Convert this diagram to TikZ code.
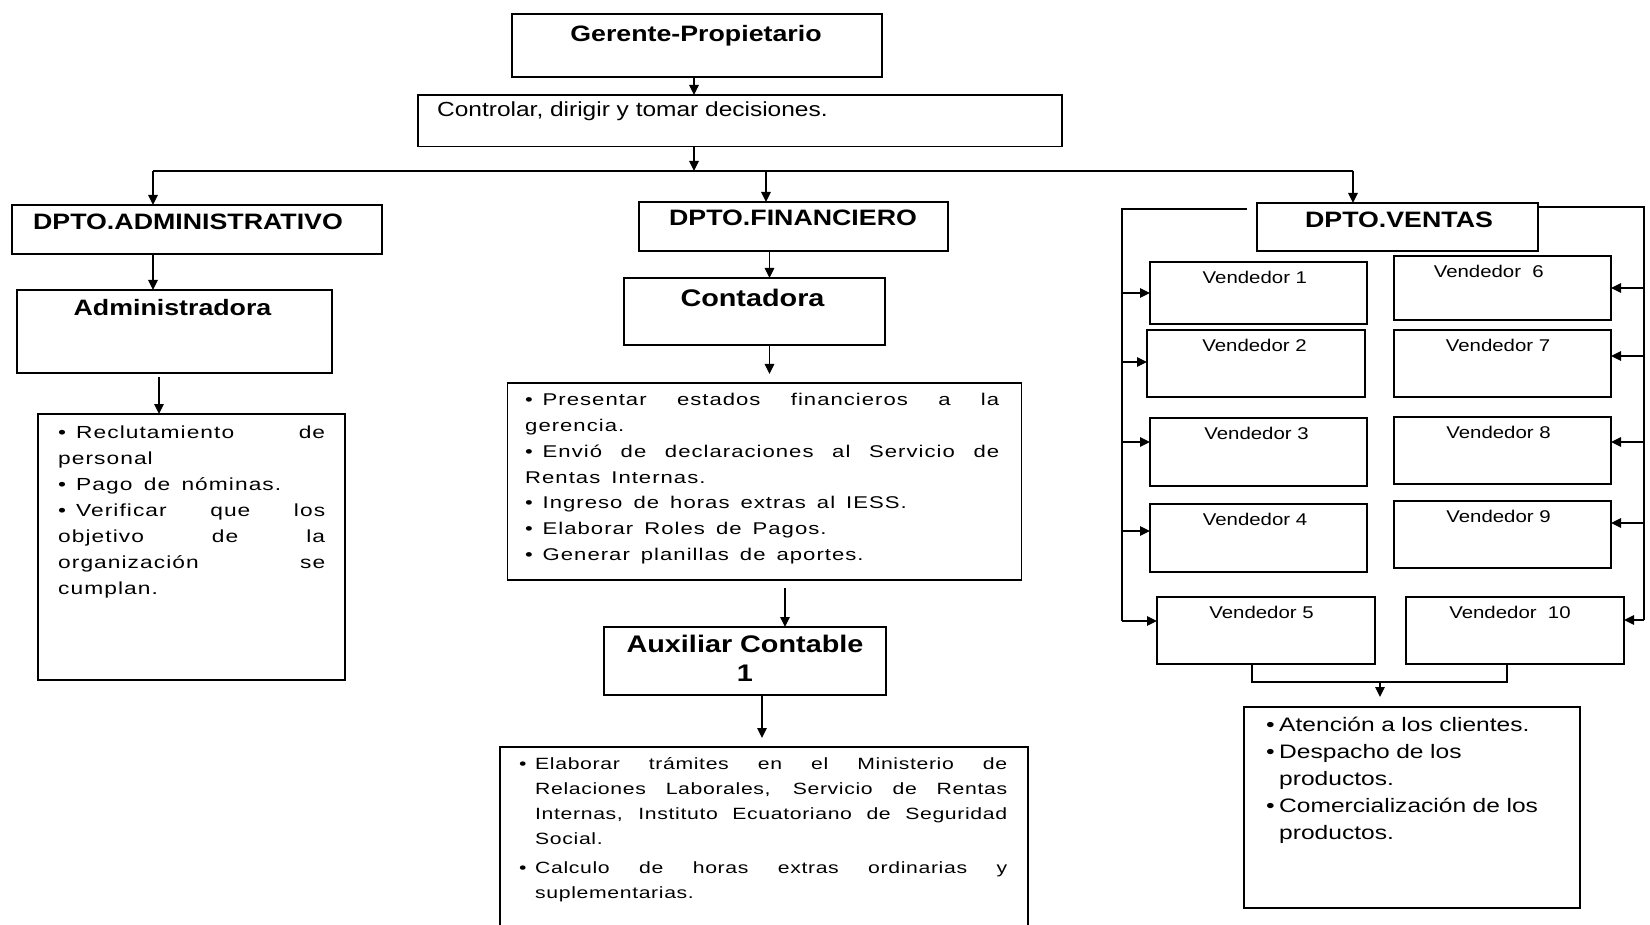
\documentclass[tikz,border=0pt]{standalone}
\usepackage{fontspec}
\setmainfont{Liberation Sans}[FakeStretch=1.2]
\newfontfamily\listfont{Liberation Sans}[FakeStretch=1.3,LetterSpace=6]
\newfontfamily\auxfont{Liberation Sans}[FakeStretch=1.3,LetterSpace=4]
\newfontfamily\widefont{Liberation Sans}[FakeStretch=1.26]
\usetikzlibrary{arrows.meta}

% bullet in a fixed-width slot, and a line justified to a given width
\newcommand\bul[1]{\makebox[#1][l]{\textbullet}}
\newcommand\jl[2]{\makebox[#1][s]{\spaceskip=0.65em plus 1fil\relax#2}}
\newcommand\widespaces{\spaceskip=0.65em\relax}

\tikzset{
  box/.style={draw, line width=1.6pt, inner sep=0pt, outer sep=0pt},
  wire/.style={line width=1.4pt},
  arr/.style={wire, -{Triangle[length=10pt,width=9.5pt]}},
  head/.style={font=\bfseries\fontsize{22.3}{26}\selectfont, inner sep=0pt, anchor=base},
  big/.style={font=\bfseries\fontsize{24}{28.3}\selectfont, inner sep=0pt, anchor=base, align=center},
  seller/.style={font=\fontsize{17}{20}\selectfont, inner sep=0pt, anchor=base},
  duty/.style={inner sep=0pt, anchor=base west, align=left},
}

\begin{document}
\begin{tikzpicture}[x=1pt, y=-1pt]
\fill[white] (0,0) rectangle (1650,925);
\useasboundingbox (0,0) rectangle (1650,925);

% ---------- top ----------
\node[box, minimum width=370pt, minimum height=63pt] (g) at (697,45.5) {};
\node[head] (tg) at (696,42) {Gerente-Propietario};
\node[box, minimum width=644pt, minimum height=51.5pt] (ctl) at (740,120.75) {};
\node[font=\fontsize{20.4}{24}\selectfont, inner sep=0pt, anchor=base west] (tctl) at (437,117) {Controlar, dirigir y tomar decisiones.};

% distribution bus
\coordinate (busL) at (153,171);
\coordinate (busF) at (766,171);
\coordinate (busR) at (1353,171);
\draw[wire] (busL) -- (busR);
\draw[arr] ([xshift=-3pt]g.south) -- ([xshift=-3pt]g.south |- ctl.north);
\draw[arr] ([xshift=-46pt]ctl.south) -- ([xshift=-46pt]ctl.south |- busL);

% ---------- administrative department ----------
\node[box, minimum width=370pt, minimum height=49pt] (adm) at (197,229.5) {};
\node[head] (tadm) at (188,229.3) {DPTO.ADMINISTRATIVO};
\node[box, minimum width=315pt, minimum height=83pt] (admin2) at (174.5,331.5) {};
\node[head] (tadmin2) at (172.5,316) {Administradora};
\node[box, minimum width=307pt, minimum height=266pt] (admlist) at (191.5,547) {};
\node[duty, text width=267pt, font=\listfont\fontsize{17.5}{26}\selectfont] (tadml) at (58,438.3) {\widespaces
\bul{18pt}\jl{249pt}{Reclutamiento de}\\
personal\\
\bul{18pt}Pago de nóminas.\\
\bul{18pt}\jl{249pt}{Verificar que los}\\
\jl{267pt}{objetivo de la}\\
\jl{267pt}{organización se}\\
cumplan.};

\coordinate (xa) at (159,0);
\draw[arr] (busL) -- (busL |- adm.north);
\draw[arr] (adm.south -| busL) -- (admin2.north -| busL);
\draw[arr, shorten <=4pt] (admin2.south -| xa) -- (admlist.north -| xa);

% ---------- financial department ----------
\node[box, minimum width=309pt, minimum height=49pt] (fin) at (793.5,226.5) {};
\node[head] (tfin) at (793,226) {DPTO.FINANCIERO};
\node[box, minimum width=261pt, minimum height=67pt] (cont) at (754.5,311.5) {};
\node[big] (tcont) at (752.5,306.7) {Contadora};
\node[box, minimum width=514pt, minimum height=197pt] (finlist) at (764.5,481.5) {};
\node[duty, text width=474pt, font=\listfont\fontsize{17}{25.7}\selectfont] (tfinl) at (525,406) {\widespaces
\bul{17.5pt}\jl{456.5pt}{Presentar estados financieros a la}\\
gerencia.\\
\bul{17.5pt}\jl{456.5pt}{Envió de declaraciones al Servicio de}\\
Rentas Internas.\\
\bul{17.5pt}Ingreso de horas extras al IESS.\\
\bul{17.5pt}Elaborar Roles de Pagos.\\
\bul{17.5pt}Generar planillas de aportes.};
\node[box, minimum width=282pt, minimum height=68pt] (aux) at (745,661) {};
\node[big] (taux) at (745,681) {Auxiliar Contable\\1};
\node[inner sep=0pt, outer sep=0pt, minimum width=528pt, minimum height=178pt] (auxlist) at (764,836) {};
\draw[line width=1.6pt] (auxlist.south west) -- (auxlist.north west) -- (auxlist.north east) -- (auxlist.south east);
\node[duty, text width=488pt, font=\auxfont\fontsize{16.3}{25}\selectfont] (tauxl) at (519,769) {\widespaces
\bul{16pt}\jl{472pt}{Elaborar trámites en el Ministerio de}\\
\hspace*{16pt}\jl{472pt}{Relaciones Laborales, Servicio de Rentas}\\
\hspace*{16pt}\jl{472pt}{Internas, Instituto Ecuatoriano de Seguridad}\\
\hspace*{16pt}Social.\\[4pt]
\bul{16pt}\jl{472pt}{Calculo de horas extras ordinarias y}\\
\hspace*{16pt}suplementarias.};

\coordinate (xf) at (769.5,0);
\coordinate (xx) at (785,0);
\coordinate (xc) at (762,0);
\draw[arr] (busF) -- (busF |- fin.north);
\draw[arr] (fin.south -| xf) -- (cont.north -| xf);
\draw[arr, shorten >=9pt] (cont.south -| xf) -- (finlist.north -| xf);
\draw[arr, shorten <=8pt] (finlist.south -| xx) -- (aux.north -| xx);
\draw[arr, shorten >=9pt] (aux.south -| xc) -- (auxlist.north -| xc);

% ---------- sales department ----------
\node[box, minimum width=281pt, minimum height=48pt] (ven) at (1397.5,227) {};
\node[head] (tven) at (1399,227.5) {DPTO.VENTAS};
\draw[arr] (busR) -- (busR |- ven.north);

\node[box, minimum width=217pt, minimum height=62pt] (v1) at (1258.5,293) {};
\node[box, minimum width=218pt, minimum height=67pt] (v2) at (1256,363.5) {};
\node[box, minimum width=217pt, minimum height=68pt] (v3) at (1258.5,452) {};
\node[box, minimum width=217pt, minimum height=68pt] (v4) at (1258.5,538) {};
\node[box, minimum width=218pt, minimum height=67pt] (v5) at (1266,630.5) {};
\node[box, minimum width=217pt, minimum height=64pt] (v6) at (1502.5,288) {};
\node[box, minimum width=217pt, minimum height=67pt] (v7) at (1502.5,363.5) {};
\node[box, minimum width=217pt, minimum height=67pt] (v8) at (1502.5,450.5) {};
\node[box, minimum width=217pt, minimum height=67pt] (v9) at (1502.5,534.5) {};
\node[box, minimum width=218pt, minimum height=67pt] (v10) at (1515,630.5) {};

\node[seller] (t1) at ([xshift=-3.6pt,yshift=-21.5pt]v1.north) {Vendedor 1};
\node[seller] (t2) at ([xshift=-1.5pt,yshift=-21.5pt]v2.north) {Vendedor 2};
\node[seller] (t3) at ([xshift=-2pt,yshift=-21.5pt]v3.north) {Vendedor 3};
\node[seller] (t4) at ([xshift=-3.5pt,yshift=-21.5pt]v4.north) {Vendedor 4};
\node[seller] (t5) at ([xshift=-4.5pt,yshift=-21.5pt]v5.north) {Vendedor 5};
\node[seller] (t6) at ([xshift=-13.7pt,yshift=-21.5pt]v6.north) {Vendedor\ \ 6};
\node[seller] (t7) at ([xshift=-4.5pt,yshift=-21.5pt]v7.north) {Vendedor 7};
\node[seller] (t8) at ([xshift=-4pt,yshift=-21.5pt]v8.north) {Vendedor 8};
\node[seller] (t9) at ([xshift=-4pt,yshift=-21.5pt]v9.north) {Vendedor 9};
\node[seller] (t10) at ([xshift=-5pt,yshift=-21.5pt]v10.north) {Vendedor\ \ 10};

% left bracket feeding sellers 1-5
\coordinate (lt) at (1122,209);
\coordinate (lb) at (1122,621);
\draw[wire] ([xshift=-10pt,yshift=-6pt]ven.north west) -- (lt) -- (lb);
\draw[arr] (lb) -- (lb -| v5.west);
\draw[arr] (v1.west -| lt) -- (v1.west);
\draw[arr] ([yshift=1.5pt]v2.west -| lt) -- ([yshift=1.5pt]v2.west);
\draw[arr] ([yshift=10pt]v3.west -| lt) -- ([yshift=10pt]v3.west);
\draw[arr] ([yshift=7pt]v4.west -| lt) -- ([yshift=7pt]v4.west);

% right bracket feeding sellers 6-10
\coordinate (rt) at (1644,207);
\coordinate (rb) at (1644,620);
\draw[wire] ([yshift=-4pt]ven.north east) -- (rt) -- (rb);
\draw[arr] (rb) -- (rb -| v10.east);
\draw[arr] (v6.east -| rt) -- (v6.east);
\draw[arr] ([yshift=7.5pt]v7.east -| rt) -- ([yshift=7.5pt]v7.east);
\draw[arr] ([yshift=8.5pt]v8.east -| rt) -- ([yshift=8.5pt]v8.east);
\draw[arr] ([yshift=11.5pt]v9.east -| rt) -- ([yshift=11.5pt]v9.east);

% sellers' duties
\node[box, minimum width=336pt, minimum height=201pt] (sales) at (1412,807.5) {};
\node[duty, text width=320pt, font=\widefont\fontsize{19.5}{27}\selectfont] (tsal) at (1266,731.7) {%
\bul{13pt}Atención a los clientes.\\
\bul{13pt}Despacho de los\\
\hspace*{13pt}productos.\\
\bul{13pt}Comercialización de los\\
\hspace*{13pt}productos.};

\coordinate (bb) at (1380,682);
\draw[wire] ([xshift=-14pt]v5.south) -- ([xshift=-14pt]v5.south |- bb) -- ([xshift=-8pt]v10.south |- bb) -- ([xshift=-8pt]v10.south);
\draw[arr, shorten >=10pt] (bb) -- (bb |- sales.north);
\end{tikzpicture}
\end{document}
